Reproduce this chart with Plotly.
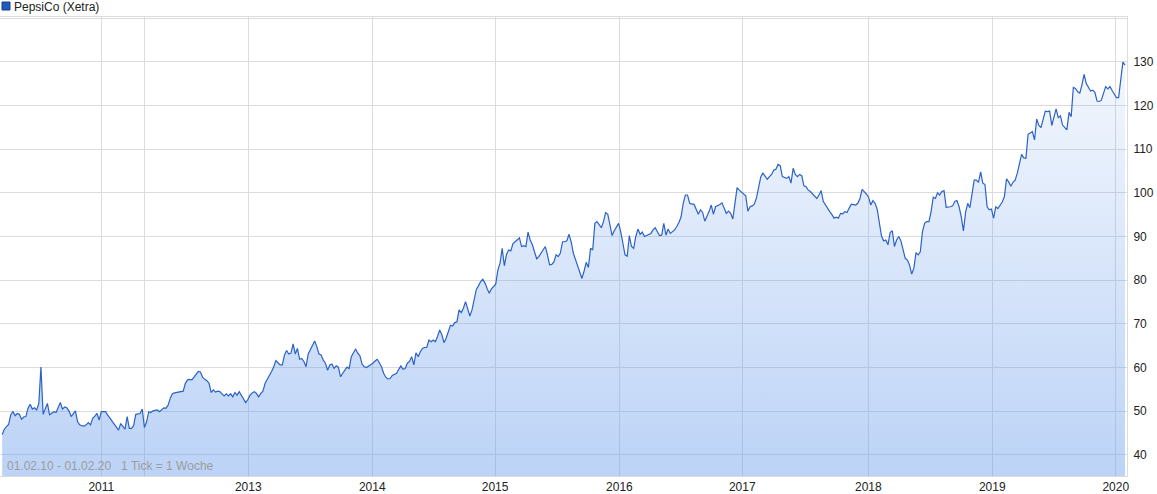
import plotly.graph_objects as go

# Weekly closing prices (EUR), PepsiCo on Xetra, 01.02.10 - 01.02.20, one value per tick (week)
price = [
    44.7, 45.9, 46.5, 47.0, 49.2, 49.9, 49.0, 49.5, 49.3, 48.2,
    48.7, 48.8, 50.7, 51.6, 50.5, 50.8, 50.3, 51.8, 60.1, 49.3,
    50.6, 51.8, 49.2, 49.5, 49.9, 49.7, 50.7, 52.0, 50.5, 51.0,
    50.8, 50.1, 48.8, 49.5, 50.1, 47.6, 46.9, 46.7, 46.6, 46.9,
    47.4, 46.9, 48.4, 48.9, 49.5, 48.0, 49.9, 49.9, 49.9, 49.1,
    48.4, 47.7, 47.0, 46.3, 45.7, 47.2, 46.5, 45.9, 48.8, 46.1,
    46.1, 46.7, 49.3, 49.4, 49.5, 50.5, 46.3, 47.6, 49.9, 49.7,
    50.1, 50.2, 50.3, 49.9, 50.3, 50.8, 50.7, 51.4, 53.0, 54.0,
    54.2, 54.3, 54.4, 54.5, 54.6, 56.4, 57.2, 57.3, 57.2, 57.8,
    58.6, 59.1, 59.0, 57.8, 57.3, 57.0, 56.4, 54.3, 54.9, 54.4,
    54.6, 54.5, 54.0, 53.5, 54.0, 53.5, 54.0, 53.3, 54.3, 53.7,
    54.5, 53.7, 53.0, 52.0, 52.7, 53.7, 54.2, 54.5, 54.1, 53.3,
    54.1, 54.6, 56.4, 57.2, 58.3, 59.1, 60.2, 61.6, 61.1, 60.6,
    60.6, 62.9, 63.9, 63.1, 63.3, 65.4, 63.1, 64.4, 61.9, 62.1,
    61.4, 60.2, 63.1, 64.0, 64.9, 66.1, 64.8, 63.1, 62.9, 61.7,
    61.0, 59.4, 60.6, 60.8, 59.8, 60.4, 60.1, 57.9, 58.7, 59.4,
    60.1, 59.8, 62.5, 63.4, 64.2, 63.3, 62.7, 60.8, 60.2, 60.0,
    60.3, 60.7, 61.0, 61.5, 61.9, 61.1, 60.2, 58.7, 57.8, 57.4,
    57.5, 58.2, 58.5, 58.7, 59.6, 60.4, 59.6, 59.8, 61.0, 61.4,
    62.5, 60.6, 63.4, 62.5, 63.6, 64.4, 64.6, 64.6, 66.3, 65.9,
    66.3, 65.9, 67.1, 68.6, 67.5, 65.7, 66.7, 68.5, 69.7, 69.5,
    70.3, 70.5, 73.2, 72.6, 73.6, 75.1, 73.2, 71.8, 73.2, 75.8,
    77.9, 78.7, 79.7, 80.2, 79.4, 78.1, 77.0, 78.0, 78.5, 79.1,
    82.3, 83.9, 87.3, 83.3, 85.9, 86.9, 86.7, 88.4, 88.8, 89.2,
    89.7, 87.7, 87.9, 87.7, 91.0, 89.2, 88.1, 86.5, 84.9, 85.4,
    86.2, 87.1, 87.7, 85.8, 83.5, 83.6, 84.2, 85.8, 85.4, 86.2,
    88.8, 88.8, 89.0, 90.5, 88.8, 86.2, 84.8, 83.5, 81.6, 80.4,
    82.1, 84.1, 82.9, 87.3, 86.9, 93.0, 93.4, 92.8, 92.0, 93.4,
    95.5, 95.1, 92.6, 90.2, 91.3, 92.3, 93.0, 91.1, 88.8, 85.8,
    85.5, 90.2, 87.7, 87.3, 90.0, 91.7, 90.5, 91.0, 90.0, 90.2,
    90.5, 90.7, 91.5, 92.0, 91.1, 90.2, 90.3, 93.0, 90.3, 91.7,
    90.7, 91.2, 91.5, 92.3, 93.2, 94.5, 97.6, 99.5, 99.5, 97.6,
    97.4, 97.4, 96.2, 95.1, 96.1, 95.5, 93.5, 94.5, 95.7, 97.2,
    95.1, 96.8, 97.0, 97.3, 97.7, 96.3, 95.3, 95.8, 95.3, 94.0,
    98.0, 101.2, 100.6, 100.1, 99.6, 99.3, 95.8, 96.8, 97.0, 97.4,
    98.9, 101.4, 103.7, 104.5, 103.8, 103.1, 103.7, 104.2, 105.2, 105.4,
    106.5, 106.2, 103.7, 103.5, 103.3, 103.7, 102.2, 105.6, 104.2, 103.7,
    104.2, 103.9, 101.6, 101.4, 100.6, 100.3, 99.7, 99.3, 98.7, 99.5,
    100.5, 98.0, 97.2, 96.2, 95.7, 95.0, 94.2, 94.4, 94.2, 95.3,
    95.2, 95.7, 95.5, 96.5, 97.4, 97.3, 97.2, 97.6, 98.7, 100.8,
    100.3, 99.7, 99.0, 97.2, 98.2, 97.6, 96.2, 93.0, 90.1, 89.0,
    89.2, 88.1, 90.9, 91.3, 87.7, 89.2, 90.0, 89.0, 86.9, 85.0,
    84.6, 83.5, 81.4, 82.7, 86.3, 85.8, 86.5, 91.1, 93.0, 93.4,
    93.4, 95.7, 99.0, 98.7, 100.0, 99.5, 100.3, 100.5, 96.7, 96.7,
    96.8, 97.0, 98.0, 98.2, 96.8, 94.5, 91.3, 95.5, 97.6, 96.6,
    99.8, 102.9, 102.9, 102.4, 104.8, 102.2, 101.9, 96.8, 96.1, 96.3,
    94.2, 96.8, 96.4, 97.1, 97.9, 99.1, 103.2, 102.5, 101.5, 102.4,
    102.9, 104.5, 106.5, 108.8, 108.0, 107.9, 113.4, 113.8, 114.0, 112.1,
    116.9, 115.4, 114.9, 116.8, 118.7, 118.6, 118.7, 115.4, 117.4, 119.2,
    117.2, 117.6, 115.5, 114.9, 114.4, 118.4, 117.4, 124.1, 123.9, 123.1,
    122.8, 124.7, 127.1, 125.0, 124.2, 123.3, 123.5, 123.0, 121.0, 120.9,
    121.2, 123.0, 124.3, 123.8, 124.3, 123.4, 122.5, 121.8, 121.8, 126.5,
    129.9, 129.2,
]
tick = list(range(1, len(price) + 1))

# Year boundaries on the tick axis
year_tick_pos = [47.0, 67.0, 115.2, 172.7, 229.7, 287.4, 344.4, 402.9, 460.4, 517.7]
year_tick_text = ["2011", "", "2013", "2014", "2015", "2016", "2017", "2018", "2019", "2020"]

y_tick_vals = [40, 50, 60, 70, 80, 90, 100, 110, 120, 130, 140]
y_tick_text = ["40", "50", "60", "70", "80", "90", "100", "110", "120", "130", ""]

series_name = "PepsiCo (Xetra)"
footer_text = "01.02.10 - 01.02.20&nbsp;&nbsp;&nbsp;1 Tick = 1 Woche"

FONT = "Liberation Sans, Arial, sans-serif"
GRID = "#dcdcdc"

fig = go.Figure()
fig.add_trace(go.Scatter(
    x=tick, y=price, mode="lines",
    line=dict(color="#2c62c6", width=1.2),
    fill="tozeroy",
    fillgradient=dict(
        type="vertical",
        colorscale=[[0, "rgba(95,150,235,0.42)"], [1, "rgba(95,150,235,0.07)"]],
        start=35.2, stop=131,
    ),
    showlegend=False, hoverinfo="skip",
))

fig.update_layout(
    width=1157, height=494,
    margin=dict(l=0, r=30, t=17, b=18),
    paper_bgcolor="white", plot_bgcolor="white",
    font=dict(family=FONT, size=12, color="#222222"),
    showlegend=False,
    xaxis=dict(
        range=[0, 522.9], tickvals=year_tick_pos, ticktext=year_tick_text,
        showgrid=True, gridcolor=GRID, gridwidth=1,
        showline=True, linecolor=GRID, linewidth=1, mirror=True,
        zeroline=False, ticks="", tickfont=dict(size=12, color="#222222"),
        fixedrange=True,
    ),
    yaxis=dict(
        side="right", range=[35.19, 140.23],
        tickvals=y_tick_vals, ticktext=y_tick_text,
        showgrid=True, gridcolor=GRID, gridwidth=1,
        showline=True, linecolor=GRID, linewidth=1, mirror=True,
        zeroline=False, ticks="", ticklabelstandoff=3,
        tickfont=dict(size=12, color="#222222"),
        fixedrange=True,
    ),
    shapes=[dict(
        type="rect", xref="paper", yref="paper",
        x0=2 / 1127, x1=10 / 1127, y0=1 + 7 / 459, y1=1 + 15 / 459,
        fillcolor="#1f5bbf", line=dict(color="#163f86", width=1),
    )],
    annotations=[
        dict(text=series_name, xref="paper", yref="paper",
             x=12 / 1127, y=1 + 10 / 459, xanchor="left", yanchor="middle",
             showarrow=False, font=dict(size=12, color="#222222", family=FONT)),
        dict(text=footer_text, xref="paper", yref="paper",
             x=5 / 1127, y=10 / 459, xanchor="left", yanchor="middle",
             showarrow=False, font=dict(size=12, color="#9c9c9c", family=FONT)),
    ],
)

fig.write_html(
    "out.html",
    config={"displayModeBar": False},
    post_script="document.body.style.margin='0';document.body.style.padding='0';",
)
